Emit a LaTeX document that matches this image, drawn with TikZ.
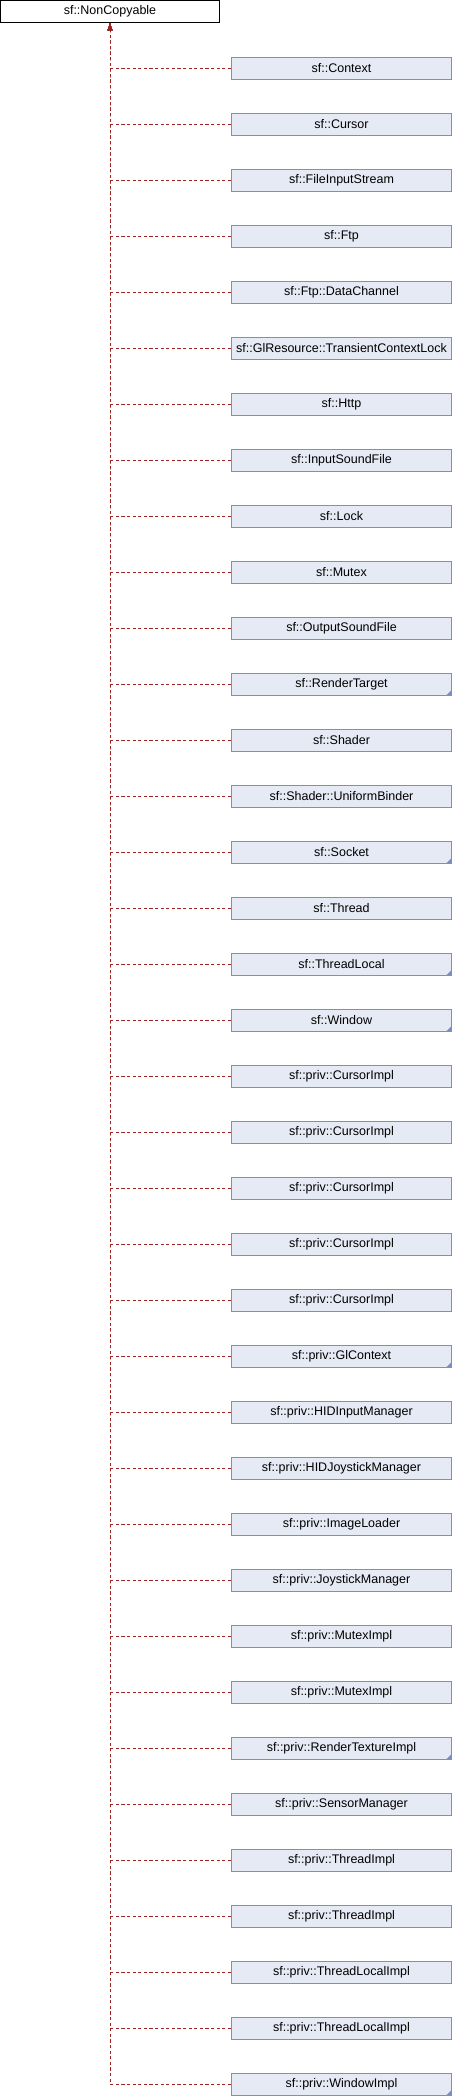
\documentclass[tikz,border=0pt]{standalone}
\usepackage{fontspec}
\setmainfont{Liberation Sans}
\usepackage{xcolor}
\usepackage{tikz}
\usetikzlibrary{arrows.meta, positioning}

\definecolor{edgered}{HTML}{9E2424}
\definecolor{boxline}{HTML}{7B8EC6}
\definecolor{boxfill}{HTML}{E6EAF4}

\begin{document}
\begin{tikzpicture}[
			x=1pt, y=1pt,
			node distance=33pt,
			every node/.style={font=\fontsize{12.5}{14}\selectfont},
			base/.style={
				rectangle, draw=black, fill=white, line width=1pt,
				minimum width=219pt, minimum height=22pt, inner sep=0pt
			},
			derived/.style={
				rectangle, draw=boxline, fill=boxfill, line width=1pt,
				minimum width=220pt, minimum height=22pt, inner sep=0pt
			},
			inherit/.style={
				-{Latex[length=7pt,width=5pt]},
				draw=edgered, line width=0.9pt,
				dash pattern=on 3.2pt off 2.4pt
			},
			fold/.style={fill=boxline}
			]
			\useasboundingbox (0,0) rectangle (452,-2096);
			
			\node[base] (noncopyable) at (110,-11.5) {sf::NonCopyable};
			
			\node[derived] (context) at (341.5,-68) {sf::Context};
			\node[derived, below=of context] (cursor) {sf::Cursor};
			\node[derived, below=of cursor] (fileinput) {sf::FileInputStream};
			\node[derived, below=of fileinput] (ftp) {sf::Ftp};
			\node[derived, below=of ftp] (datachannel) {sf::Ftp::DataChannel};
			\node[derived, below=of datachannel] (ctxlock) {sf::GlResource::TransientContextLock};
			\node[derived, below=of ctxlock] (http) {sf::Http};
			\node[derived, below=of http] (insound) {sf::InputSoundFile};
			\node[derived, below=of insound] (lock) {sf::Lock};
			\node[derived, below=of lock] (mutex) {sf::Mutex};
			\node[derived, below=of mutex] (outsound) {sf::OutputSoundFile};
			\node[derived, below=of outsound] (rendertarget) {sf::RenderTarget};
			\node[derived, below=of rendertarget] (shader) {sf::Shader};
			\node[derived, below=of shader] (binder) {sf::Shader::UniformBinder};
			\node[derived, below=of binder] (socket) {sf::Socket};
			\node[derived, below=of socket] (thread) {sf::Thread};
			\node[derived, below=of thread] (threadlocal) {sf::ThreadLocal};
			\node[derived, below=of threadlocal] (window) {sf::Window};
			\node[derived, below=of window] (cimpla) {sf::priv::CursorImpl};
			\node[derived, below=of cimpla] (cimplb) {sf::priv::CursorImpl};
			\node[derived, below=of cimplb] (cimplc) {sf::priv::CursorImpl};
			\node[derived, below=of cimplc] (cimpld) {sf::priv::CursorImpl};
			\node[derived, below=of cimpld] (cimple) {sf::priv::CursorImpl};
			\node[derived, below=of cimple] (glcontext) {sf::priv::GlContext};
			\node[derived, below=of glcontext] (hidinput) {sf::priv::HIDInputManager};
			\node[derived, below=of hidinput] (hidjoystick) {sf::priv::HIDJoystickManager};
			\node[derived, below=of hidjoystick] (imageloader) {sf::priv::ImageLoader};
			\node[derived, below=of imageloader] (joystick) {sf::priv::JoystickManager};
			\node[derived, below=of joystick] (muteximpla) {sf::priv::MutexImpl};
			\node[derived, below=of muteximpla] (muteximplb) {sf::priv::MutexImpl};
			\node[derived, below=of muteximplb] (rtimpl) {sf::priv::RenderTextureImpl};
			\node[derived, below=of rtimpl] (sensor) {sf::priv::SensorManager};
			\node[derived, below=of sensor] (threadimpla) {sf::priv::ThreadImpl};
			\node[derived, below=of threadimpla] (threadimplb) {sf::priv::ThreadImpl};
			\node[derived, below=of threadimplb] (tlimpla) {sf::priv::ThreadLocalImpl};
			\node[derived, below=of tlimpla] (tlimplb) {sf::priv::ThreadLocalImpl};
			\node[derived, below=of tlimplb] (windowimpl) {sf::priv::WindowImpl};
			
			% classes with more derived classes not shown
			\foreach \n in {rendertarget,socket,threadlocal,window,glcontext,rtimpl,windowimpl}
				\fill[fold] ([xshift=-0.5pt,yshift=0.5pt]\n.south east) -- ++(-5,0) -- ++(5,5) -- cycle;
			
			\foreach \n in {context,cursor,fileinput,ftp,datachannel,ctxlock,http,insound,lock,mutex,
				outsound,rendertarget,shader,binder,socket,thread,threadlocal,window,
				cimpla,cimplb,cimplc,cimpld,cimple,glcontext,hidinput,hidjoystick,imageloader,
				joystick,muteximpla,muteximplb,rtimpl,sensor,threadimpla,threadimplb,
				tlimpla,tlimplb,windowimpl}
				\draw[inherit] (\n.west) -| (noncopyable.south);
			
		\end{tikzpicture}
\end{document}
